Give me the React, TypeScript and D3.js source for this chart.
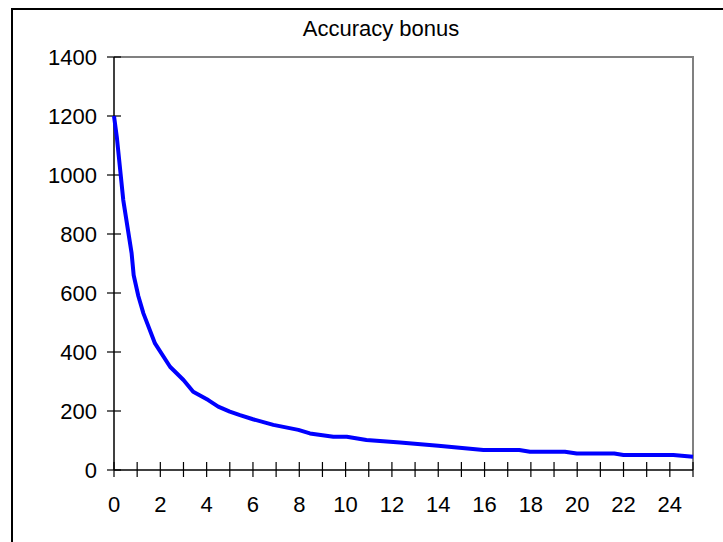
import * as d3 from 'd3';
import { useEffect, useRef } from 'react';

// values
const xValues = [
  0, 0.12, 0.4, 0.76, 0.85, 1.05, 1.27, 1.77, 2.42, 3.0, 3.42, 4.07, 4.5, 5.0,
  5.44, 6.0, 6.88, 7.96, 8.46, 9.47, 10.05, 10.9, 12.35, 14.0, 15.95, 17.5,
  17.96, 19.47, 19.98, 21.6, 22.0, 24.15, 25,
];
const bonusValues = [
  1200, 1130, 915, 735, 660, 590, 531, 429, 350, 305, 265, 237, 215, 198, 186,
  172, 153, 136, 124, 113, 113, 102, 93, 82, 68, 68, 62, 62, 56, 56, 51, 51, 45,
];
const yTicks = [0, 200, 400, 600, 800, 1000, 1200, 1400];
const xTicks = d3.range(0, 26, 1);
const xLabels = d3.range(0, 25, 2);
const title = 'Accuracy bonus';

function App() {
  const chartRef = useRef<SVGSVGElement>(null);

  const width = 723;
  const height = 542;
  const plot = { left: 114, right: 693, top: 57, bottom: 470 };
  const font = '"Liberation Sans", Arial, sans-serif';
  const fontSize = 22;

  useEffect(() => {
    const svg = d3.select(chartRef.current);
    svg.selectAll('*').remove();

    const x = d3.scaleLinear().domain([0, 25]).range([plot.left, plot.right]);
    const y = d3.scaleLinear().domain([0, 1400]).range([plot.bottom, plot.top]);

    // outer chart border (runs off the right/bottom edge)
    svg
      .append('rect')
      .attr('x', 12)
      .attr('y', 9)
      .attr('width', 800)
      .attr('height', 600)
      .attr('fill', '#fff')
      .attr('stroke', '#000')
      .attr('stroke-width', 2);

    // title
    svg
      .append('text')
      .attr('x', 381)
      .attr('y', 28)
      .attr('dy', '0.36em')
      .attr('text-anchor', 'middle')
      .attr('font-family', font)
      .attr('font-size', fontSize)
      .text(title);

    // plot area border, top and right in grey
    svg
      .append('path')
      .attr('d', `M${plot.left},${plot.top}H${plot.right}V${plot.bottom}`)
      .attr('fill', 'none')
      .attr('stroke', '#808080')
      .attr('stroke-width', 2);

    // y axis
    const yAxis = svg.append('g');
    yAxis
      .append('line')
      .attr('x1', plot.left)
      .attr('x2', plot.left)
      .attr('y1', plot.top)
      .attr('y2', plot.bottom)
      .attr('stroke', '#000')
      .attr('stroke-width', 1.5);
    yAxis
      .selectAll('.y-tick')
      .data(yTicks)
      .enter()
      .append('line')
      .attr('x1', plot.left - 7)
      .attr('x2', plot.left + 7)
      .attr('y1', (d) => y(d))
      .attr('y2', (d) => y(d))
      .attr('stroke', '#000')
      .attr('stroke-width', 1.2);
    yAxis
      .selectAll('.y-label')
      .data(yTicks)
      .enter()
      .append('text')
      .attr('x', 97)
      .attr('y', (d) => y(d))
      .attr('dy', '0.36em')
      .attr('text-anchor', 'end')
      .attr('font-family', font)
      .attr('font-size', fontSize)
      .text((d) => d);

    // x axis
    const xAxis = svg.append('g');
    xAxis
      .append('line')
      .attr('x1', plot.left)
      .attr('x2', plot.right)
      .attr('y1', plot.bottom)
      .attr('y2', plot.bottom)
      .attr('stroke', '#000')
      .attr('stroke-width', 1.5);
    xAxis
      .selectAll('.x-tick')
      .data(xTicks)
      .enter()
      .append('line')
      .attr('x1', (d) => x(d))
      .attr('x2', (d) => x(d))
      .attr('y1', plot.bottom - 8)
      .attr('y2', plot.bottom + 7)
      .attr('stroke', '#000')
      .attr('stroke-width', 1.2);
    xAxis
      .selectAll('.x-label')
      .data(xLabels)
      .enter()
      .append('text')
      .attr('x', (d) => x(d))
      .attr('y', 504)
      .attr('dy', '0.36em')
      .attr('text-anchor', 'middle')
      .attr('font-family', font)
      .attr('font-size', fontSize)
      .text((d) => d);

    // the curve
    const line = d3
      .line<number>()
      .x((_d, i) => x(xValues[i]))
      .y((d) => y(d));
    svg
      .append('path')
      .datum(bonusValues)
      .attr('d', line)
      .attr('fill', 'none')
      .attr('stroke', '#0000ff')
      .attr('stroke-width', 4)
      .attr('stroke-linejoin', 'round');
  }, []);

  return (
    <svg
      ref={chartRef}
      width={width}
      height={height}
      style={{ position: 'absolute', left: 0, top: 0, background: '#fff' }}
    />
  );
}

export default App;
